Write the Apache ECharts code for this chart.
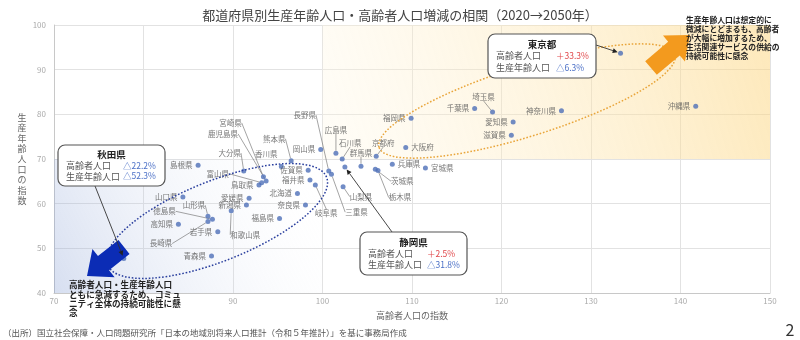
<!DOCTYPE html>
<html>
<head>
<meta charset="utf-8">
<script src="https://cdn.jsdelivr.net/npm/echarts@6/dist/echarts.min.js"></script>
<style>
html,body{margin:0;padding:0;background:#fff}
#chart{width:800px;height:340px}
</style>
</head>
<body>
<div id="chart"></div>
<script>
// 2050年の指数（2020年＝100）
const prefectures = ['北海道','青森県','岩手県','宮城県','秋田県','山形県','福島県','茨城県','栃木県','群馬県',
  '埼玉県','千葉県','東京都','神奈川県','新潟県','富山県','石川県','福井県','山梨県','長野県',
  '岐阜県','静岡県','愛知県','三重県','滋賀県','京都府','大阪府','兵庫県','奈良県','和歌山県',
  '鳥取県','島根県','岡山県','広島県','山口県','徳島県','香川県','愛媛県','高知県','福岡県',
  '佐賀県','長崎県','熊本県','大分県','宮崎県','鹿児島県','沖縄県'];
// 高齢者人口の指数
const elderlyIndex = [97.2, 87.6, 88.3, 111.5, 77.8, 87.2, 95.2, 105.9, 106.2, 104.3,
  119.0, 117.0, 133.3, 126.7, 91.5, 93.2, 102.2, 98.6, 102.3, 100.7,
  99.2, 102.5, 121.3, 101.0, 121.1, 106.0, 109.3, 107.8, 98.1, 89.8,
  92.9, 86.1, 99.8, 101.5, 84.4, 87.7, 95.4, 91.8, 83.9, 109.9,
  98.4, 87.2, 96.5, 91.2, 93.4, 93.7, 141.7];
// 生産年齢人口の指数
const workingIndex = [62.3, 48.3, 53.7, 68.0, 47.7, 57.2, 56.7, 67.7, 67.4, 68.4,
  80.5, 81.3, 93.7, 80.8, 59.7, 64.7, 70.0, 65.3, 63.8, 67.3,
  64.2, 68.2, 78.3, 66.6, 75.3, 70.6, 72.6, 68.8, 59.7, 58.4,
  64.2, 68.6, 72.1, 71.3, 61.5, 56.5, 68.3, 61.2, 55.4, 79.1,
  67.5, 56.0, 69.6, 67.3, 66.0, 65.1, 81.8];

const xRange = [70, 150];
const yRange = [40, 100];
const tickStep = 10;

// 吹き出しで示す都府県と増減率
const calloutNames = ['東京都', '静岡県', '秋田県'];
const elderlyChange = ['＋33.3%', '＋2.5%', '△22.2%'];
const workingChange = ['△6.3%', '△31.8%', '△52.3%'];

// 注記文
const noteUpper = ['生産年齢人口は想定的に', '微減にとどまるも、高齢者', 'が大幅に増加するため、',
  '生活関連サービスの供給の', '持続可能性に懸念'];
const noteLower = ['高齢者人口・生産年齢人口', 'ともに急減するため、コミュ', 'ニティ全体の持続可能性に懸', '念'];

// ラベル配置（点からのずらし量 px）
const leaderOffsets = {
  '宮崎県': [-33, -54], '鹿児島県': [-43, -47], '大分県': [-14, -18], '富山県': [-44, -9],
  '熊本県': [-17, -22], '長野県': [-24, -56], '三重県': [25, 38], '岐阜県': [11, 28],
  '広島県': [0, -23], '石川県': [8, -16], '群馬県': [0, -13], '京都府': [7, -13],
  '茨城県': [27, 12], '栃木県': [22, 27], '山梨県': [18, 10], '和歌山県': [14, 24],
  '山形県': [-14, -11], '徳島県': [-48, -8], '長崎県': [-47, 22], '埼玉県': [-9, -15]
};
const plainOffsets = { '香川県': [-15, -12] };
const rightLabels = ['大阪府', '兵庫県', '宮城県'];

const FONT = '"Noto Sans CJK JP", "Noto Sans", sans-serif';
const chart = echarts.init(document.getElementById('chart'), null, { renderer: 'canvas' });

const points = prefectures.map((name, i) => {
  const item = { name: name, value: [elderlyIndex[i], workingIndex[i]] };
  if (calloutNames.includes(name)) item.label = { show: false };
  else if (rightLabels.includes(name)) item.label = { position: 'right' };
  if (leaderOffsets[name]) item.labelLine = { show: true };
  return item;
});

const option = {
  animation: false,
  textStyle: { fontFamily: FONT },
  title: {
    text: '都道府県別生産年齢人口・高齢者人口増減の相関（2020→2050年）',
    left: 'center', top: 4,
    textStyle: { fontSize: 13, fontWeight: 'normal', color: '#444', fontFamily: FONT }
  },
  grid: { left: 54, right: 30, top: 25, bottom: 47 },
  xAxis: {
    type: 'value', min: xRange[0], max: xRange[1], interval: tickStep,
    name: '高齢者人口の指数', nameLocation: 'middle', nameGap: 18,
    nameTextStyle: { fontSize: 9, color: '#666' },
    axisLine: { show: true, lineStyle: { color: '#c8c8c8' } },
    axisTick: { show: false },
    axisLabel: { fontSize: 8, color: '#aaa', margin: 4,
      formatter: v => (v === 80 ? '' : String(v)) },
    splitLine: { lineStyle: { color: '#e2e2e2' } }
  },
  yAxis: {
    type: 'value', min: yRange[0], max: yRange[1], interval: tickStep,
    name: '生\n産\n年\n齢\n人\n口\nの\n指\n数', nameLocation: 'middle', nameGap: 32, nameRotate: 0,
    nameTextStyle: { fontSize: 9, color: '#666', lineHeight: 10.4, align: 'center', verticalAlign: 'middle' },
    axisLine: { show: true, lineStyle: { color: '#c8c8c8' } },
    axisTick: { show: false },
    axisLabel: { fontSize: 8, color: '#aaa', margin: 8 },
    splitLine: { lineStyle: { color: '#e2e2e2' } }
  },
  series: [{
    type: 'scatter',
    symbolSize: 5,
    itemStyle: { color: '#4e6fb8' },
    label: { show: true, position: 'left', distance: 3, formatter: '{b}', fontSize: 7.5, color: '#555' },
    labelLine: { show: false, lineStyle: { color: '#666', width: 0.6 } },
    labelLayout: function (p) {
      const name = prefectures[p.dataIndex];
      const o = leaderOffsets[name] || plainOffsets[name];
      if (!o) return {};
      const cx = p.rect.x + p.rect.width / 2;
      const cy = p.rect.y + p.rect.height / 2;
      return { x: cx + o[0], y: cy + o[1], align: 'center', verticalAlign: 'middle' };
    },
    markArea: {
      silent: true,
      label: { show: false },
      data: [
        [{ xAxis: 100, yAxis: 70, itemStyle: { color: new echarts.graphic.LinearGradient(0, 1, 1, 0, [
            { offset: 0, color: 'rgba(255,248,230,0.3)' },
            { offset: 1, color: 'rgba(252,214,130,0.55)' }]) } },
         { xAxis: 150, yAxis: 100 }],
        [{ xAxis: 70, yAxis: 40, itemStyle: { color: new echarts.graphic.LinearGradient(1, 0, 0, 1, [
            { offset: 0, color: 'rgba(255,255,255,0)' },
            { offset: 1, color: 'rgba(130,155,210,0.32)' }]) } },
         { xAxis: 100, yAxis: 70 }]
      ]
    },
    data: points,
    z: 3
  }]
};
chart.setOption(option);

// 注記（楕円・矢印・吹き出し・文章）
function toPx(name) {
  const i = prefectures.indexOf(name);
  return chart.convertToPixel({ seriesIndex: 0 }, [elderlyIndex[i], workingIndex[i]]);
}
function ellipse(cx, cy, rx, ry, deg, color) {
  return { type: 'ellipse', x: cx, y: cy, rotation: deg * Math.PI / 180, silent: true, z: 20,
    shape: { cx: 0, cy: 0, rx: rx, ry: ry },
    style: { fill: 'none', stroke: color, lineWidth: 1.5, lineDash: [1.6, 1.8] } };
}
function blockArrow(tail, tip, shaftHalf, headHalf, headLen, fill) {
  const dx = tip[0] - tail[0], dy = tip[1] - tail[1];
  const L = Math.hypot(dx, dy);
  return { type: 'polygon', x: tail[0], y: tail[1], rotation: -Math.atan2(dy, dx), z: 60, silent: true,
    shape: { points: [[0, -shaftHalf], [L - headLen, -shaftHalf], [L - headLen, -headHalf], [L, 0],
      [L - headLen, headHalf], [L - headLen, shaftHalf], [0, shaftHalf]] },
    style: { fill: fill } };
}
function pointer(from, to) {
  const dx = to[0] - from[0], dy = to[1] - from[1];
  const L = Math.hypot(dx, dy);
  const ux = dx / L, uy = dy / L;
  const end = [to[0] - ux * 3, to[1] - uy * 3];
  const base = [end[0] - ux * 5, end[1] - uy * 5];
  return [
    { type: 'line', z: 70, silent: true, shape: { x1: from[0], y1: from[1], x2: base[0], y2: base[1] },
      style: { stroke: '#333', lineWidth: 0.9 } },
    { type: 'polygon', z: 70, silent: true,
      shape: { points: [end, [base[0] - uy * 2.4, base[1] + ux * 2.4], [base[0] + uy * 2.4, base[1] - ux * 2.4]] },
      style: { fill: '#222' } }
  ];
}
function callout(idx, x, y, w, h, valX) {
  const txt = (t, tx, ty, color, weight, size, align) => ({
    type: 'text', x: tx, y: ty, z: 81, silent: true,
    style: { text: t, fill: color, fontFamily: FONT, fontSize: size, fontWeight: weight,
      align: align || 'left', verticalAlign: 'middle' } });
  const valColor = v => (v.charAt(0) === '△' ? '#4a6fc6' : '#e0474a');
  const row1 = y + h * 0.5, row2 = y + h * 0.76;
  return [
    { type: 'rect', z: 80, silent: true, shape: { x: x, y: y, width: w, height: h, r: 7 },
      style: { fill: '#fff', stroke: '#555', lineWidth: 1.2 } },
    txt(calloutNames[idx], x + w / 2, y + h * 0.24, '#222', 'bold', 9.5, 'center'),
    txt('高齢者人口', x + 8, row1, '#555', 'normal', 9),
    txt(elderlyChange[idx], valX, row1, valColor(elderlyChange[idx]), 'normal', 8.5),
    txt('生産年齢人口', x + 8, row2, '#555', 'normal', 9),
    txt(workingChange[idx], valX, row2, valColor(workingChange[idx]), 'normal', 8.5)
  ];
}
function noteLines(lines, x, y0, step, size) {
  return lines.map((t, k) => ({
    type: 'text', x: x, y: y0 + k * step, z: 90, silent: true,
    style: { text: t, fill: '#222', fontFamily: FONT, fontSize: size, fontWeight: 'bold', verticalAlign: 'middle' }
  }));
}

const tokyo = toPx('東京都'), shizuoka = toPx('静岡県'), akita = toPx('秋田県');
const elements = [
  ellipse(527, 101, 155, 35, 17.4, '#e9a53a'),
  ellipse(217, 221, 118, 40, 21.8, '#2a3f9e'),
  blockArrow([651, 68], [690, 35], 9, 17, 21, '#f39a1e'),
  blockArrow([124, 247], [87, 276], 9, 18, 21, '#0b2cb5'),
  ...pointer([596, 45], tokyo),
  ...pointer([392, 232], shizuoka),
  ...pointer([95, 186], akita),
  ...callout(0, 488, 34, 108, 44, 556),
  ...callout(1, 360, 232, 107, 43, 427),
  ...callout(2, 58, 145, 107, 41, 123),
  ...noteLines(noteUpper, 686, 20.5, 8.8, 7.8),
  ...noteLines(noteLower, 69, 285, 9.3, 8.6),
  { type: 'text', x: 3, y: 333, z: 90, silent: true,
    style: { text: '（出所）国立社会保障・人口問題研究所「日本の地域別将来人口推計（令和５年推計）」を基に事務局作成',
      fill: '#555', fontFamily: FONT, fontSize: 8.5, verticalAlign: 'middle' } },
  { type: 'text', x: 790, y: 330, z: 90, silent: true,
    style: { text: '2', fill: '#333', fontFamily: FONT, fontSize: 16, align: 'center', verticalAlign: 'middle' } }
];
chart.setOption({ graphic: { elements: elements } });
</script>
</body>
</html>
